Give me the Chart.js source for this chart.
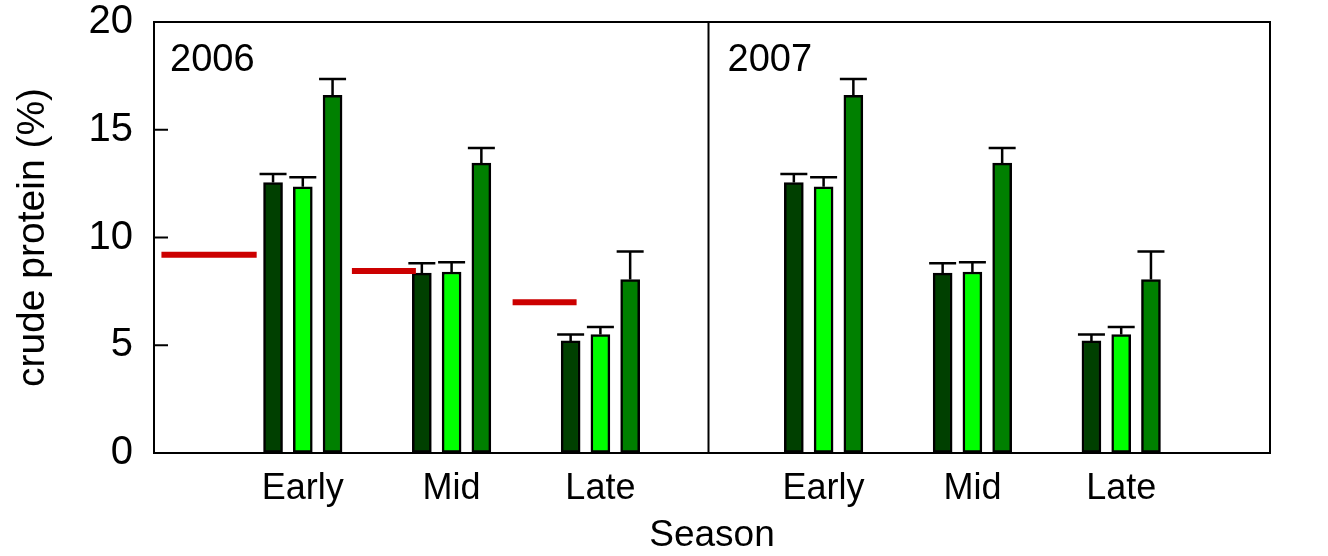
<!DOCTYPE html>
<html lang="en">
<head>
    <meta charset="UTF-8">
    <title>crude protein by season</title>
    <style>
        body { margin: 0; background: #fff; }
        canvas { display: block; }
    </style>
</head>
<body>
<canvas id="cpChart" width="1328" height="556"></canvas>

<script src="https://cdn.jsdelivr.net/npm/chart.js@4.4.1/dist/chart.umd.min.js"></script>
<script>
    // season groups, x positions (in axis units) of each group centre
    var seasons = ['Early', 'Mid', 'Late', 'Early', 'Mid', 'Late'];
    var groupX = [1, 2, 3, 4.5, 5.5, 6.5];
    var panelSplit = 3.72;
    var years = ['2006', '2007'];

    // values (2006 then 2007)
    var darkVals  = [12.55, 8.35, 5.2,  12.55, 8.35, 5.2];
    var darkErr   = [0.4,   0.45, 0.3,  0.4,   0.45, 0.3];
    var lightVals = [12.35, 8.4,  5.5,  12.35, 8.4,  5.5];
    var lightErr  = [0.45,  0.45, 0.35, 0.45,  0.45, 0.35];
    var greenVals = [16.6,  13.45, 8.05, 16.6, 13.45, 8.05];
    var greenErr  = [0.75,  0.7,  1.3,  0.75,  0.7,  1.3];

    // red reference levels in 2006 panel
    var refLevel = [9.2, 8.45, 7.0];
    var refFrom  = [0.05, 1.33, 2.41];
    var refTo    = [0.69, 1.76, 2.84];

    var yTicks = [0, 5, 10, 15, 20];

    var FONT = "'Liberation Sans', Arial, sans-serif";

    function barPoints(vals, offset) {
        return vals.map(function (v, i) { return { x: groupX[i] + offset, y: v }; });
    }

    var refPoints = [];
    for (var i = 0; i < refLevel.length; i++) {
        refPoints.push({ x: refFrom[i], y: refLevel[i] });
        refPoints.push({ x: refTo[i], y: refLevel[i] });
        refPoints.push({ x: refTo[i] + 0.01, y: null });
    }

    var errors = [darkErr, lightErr, greenErr];

    var framePlugin = {
        id: 'frame',
        afterDatasetsDraw: function (chart) {
            var ctx = chart.ctx;
            var area = chart.chartArea;
            var xs = chart.scales.x, ys = chart.scales.y;
            ctx.save();
            ctx.strokeStyle = '#000';
            ctx.lineWidth = 2.5;

            // error bars (upper half only)
            for (var d = 0; d < 3; d++) {
                var meta = chart.getDatasetMeta(d);
                var ds = chart.data.datasets[d];
                meta.data.forEach(function (bar, i) {
                    var top = ys.getPixelForValue(ds.data[i].y + errors[d][i]);
                    ctx.beginPath();
                    ctx.moveTo(bar.x, bar.y);
                    ctx.lineTo(bar.x, top);
                    ctx.moveTo(bar.x - 13.5, top);
                    ctx.lineTo(bar.x + 13.5, top);
                    ctx.stroke();
                });
            }

            // box + panel divider
            ctx.lineWidth = 2;
            ctx.strokeRect(area.left, area.top, area.right - area.left, area.bottom - area.top);
            var sx = Math.round(xs.getPixelForValue(panelSplit)) + 0.5;
            ctx.beginPath();
            ctx.moveTo(sx, area.top);
            ctx.lineTo(sx, area.bottom);
            ctx.stroke();

            // inward ticks on the left axis
            yTicks.forEach(function (t) {
                var py = ys.getPixelForValue(t);
                ctx.beginPath();
                ctx.moveTo(area.left, py);
                ctx.lineTo(area.left + 14, py);
                ctx.stroke();
            });

            // year labels
            ctx.fillStyle = '#000';
            ctx.font = '38px ' + FONT;
            ctx.textBaseline = 'alphabetic';
            ctx.textAlign = 'left';
            ctx.fillText(years[0], area.left + 16, area.top + 49);
            ctx.fillText(years[1], sx + 19, area.top + 49);
            ctx.restore();
        }
    };

    var ctx = document.getElementById('cpChart').getContext('2d');
    var chart = new Chart(ctx, {
        type: 'bar',
        data: {
            datasets: [
                {
                    data: barPoints(darkVals, -0.2),
                    backgroundColor: '#004000',
                    borderColor: '#000',
                    borderWidth: 2.5,
                    barThickness: 19,
                    grouped: false,
                    borderSkipped: false
                },
                {
                    data: barPoints(lightVals, 0),
                    backgroundColor: '#00ff00',
                    borderColor: '#000',
                    borderWidth: 2.5,
                    barThickness: 19,
                    grouped: false,
                    borderSkipped: false
                },
                {
                    data: barPoints(greenVals, 0.2),
                    backgroundColor: '#008000',
                    borderColor: '#000',
                    borderWidth: 2.5,
                    barThickness: 19,
                    grouped: false,
                    borderSkipped: false
                },
                {
                    type: 'line',
                    data: refPoints,
                    borderColor: '#cc0000',
                    borderWidth: 6,
                    borderCapStyle: 'butt',
                    pointRadius: 0,
                    spanGaps: false,
                    order: -1
                }
            ]
        },
        options: {
            responsive: false,
            animation: false,
            layout: { padding: { left: 0, right: 58, top: 22, bottom: 0 } },
            plugins: {
                legend: { display: false },
                tooltip: { enabled: false }
            },
            scales: {
                x: {
                    type: 'linear',
                    min: 0,
                    max: 7.5,
                    offset: false,
                    grid: { display: false, drawTicks: false, offset: false },
                    border: { display: false },
                    afterBuildTicks: function (scale) {
                        scale.ticks = groupX.map(function (v) { return { value: v }; });
                    },
                    afterFit: function (scale) { scale.height = 103; },
                    ticks: {
                        autoSkip: false,
                        maxRotation: 0,
                        padding: 14,
                        color: '#000',
                        font: { family: FONT, size: 36 },
                        callback: function (value, index) { return seasons[index]; }
                    },
                    title: {
                        display: true,
                        text: 'Season',
                        color: '#000',
                        font: { family: FONT, size: 37, lineHeight: 1.1 },
                        padding: { top: 0, bottom: 0 }
                    }
                },
                y: {
                    min: 0,
                    max: 20,
                    // transparent tick marks only give the label gap
                    grid: {
                        display: true,
                        drawOnChartArea: false,
                        drawTicks: true,
                        tickLength: 21,
                        tickColor: 'rgba(0,0,0,0)',
                        color: 'rgba(0,0,0,0)'
                    },
                    border: { display: false },
                    afterBuildTicks: function (scale) {
                        scale.ticks = yTicks.map(function (v) { return { value: v }; });
                    },
                    afterFit: function (scale) { scale.width = 154; },
                    ticks: {
                        padding: 0,
                        color: '#000',
                        font: { family: FONT, size: 40, lineHeight: 1 }
                    },
                    title: {
                        display: true,
                        text: 'crude protein (%)',
                        color: '#000',
                        font: { family: FONT, size: 39 },
                        padding: { top: 10, bottom: 0 }
                    }
                }
            }
        },
        plugins: [framePlugin]
    });
</script>
</body>
</html>
